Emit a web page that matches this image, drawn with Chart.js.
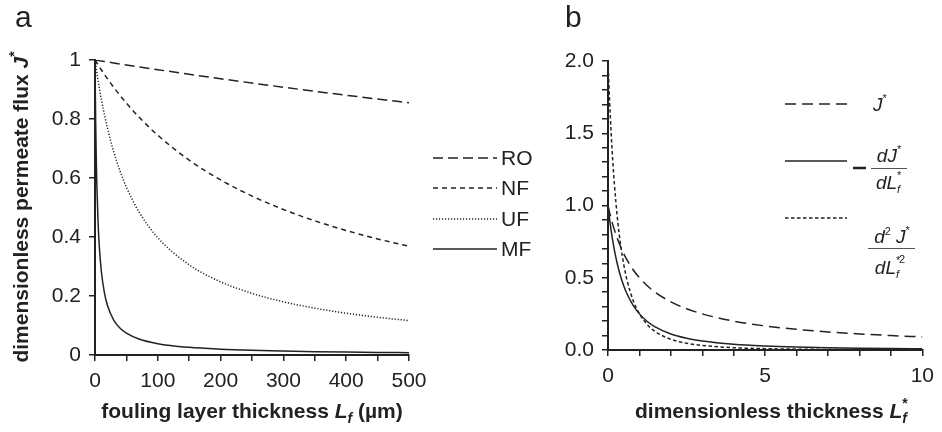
<!DOCTYPE html>
<html lang="en">
<head>
<meta charset="UTF-8">
<title>Permeate flux vs fouling layer thickness</title>
<script src="https://cdn.jsdelivr.net/npm/chart.js"></script>
<style>
    body { margin: 0; background: #fff; }
    .fig { position: relative; width: 942px; height: 432px; overflow: hidden; }
    .fig canvas { position: absolute; top: 0; }
    #chartA { left: 0; }
    #chartB { left: 480px; z-index: 2; }
</style>
</head>
<body>
<div class="fig">
    <canvas id="chartA" width="560" height="432"></canvas>
    <canvas id="chartB" width="462" height="432"></canvas>
</div>

<script>
// panel a: fouling layer thickness (um) and dimensionless flux per membrane type
const thicknessUm = [0, 0.5, 1, 2, 3, 5, 7, 10, 15, 20, 30, 40, 50, 70, 100, 150, 200, 250, 300, 350, 400, 450, 500];
const fluxRO = [1, 0.9998, 0.9997, 0.9993, 0.999, 0.9983, 0.9976, 0.9966, 0.9949, 0.9933, 0.9899, 0.9866, 0.9833, 0.9768, 0.9672, 0.9516, 0.9365, 0.9219, 0.9077, 0.8939, 0.8806, 0.8676, 0.8551];
const fluxNF = [1, 0.9983, 0.9966, 0.9932, 0.9898, 0.9832, 0.9766, 0.9669, 0.9511, 0.9359, 0.9068, 0.8795, 0.8538, 0.8066, 0.7449, 0.6606, 0.5935, 0.5388, 0.4932, 0.4548, 0.4220, 0.3935, 0.3687];
const fluxUF = [1, 0.9925, 0.9851, 0.9706, 0.9565, 0.9296, 0.9041, 0.8684, 0.8148, 0.7674, 0.6875, 0.6226, 0.5690, 0.4853, 0.3976, 0.3056, 0.2481, 0.2089, 0.1803, 0.1587, 0.1416, 0.1279, 0.1166];
const fluxMF = [1, 0.8889, 0.8, 0.6667, 0.5714, 0.4444, 0.3636, 0.2857, 0.2105, 0.1667, 0.1176, 0.0909, 0.0741, 0.0541, 0.0385, 0.026, 0.0196, 0.0157, 0.0132, 0.0113, 0.0099, 0.0088, 0.0079];
const membranes = ['RO', 'NF', 'UF', 'MF'];

// panel b: dimensionless thickness, J*, -dJ*/dL*, d2J*/dL*2
const thicknessDimless = [0, 0.05, 0.1, 0.15, 0.2, 0.3, 0.4, 0.5, 0.6, 0.8, 1, 1.25, 1.5, 2, 2.5, 3, 4, 5, 6, 7, 8, 9, 10];
const fluxJ = [1, 0.9524, 0.9091, 0.8696, 0.8333, 0.7692, 0.7143, 0.6667, 0.625, 0.5556, 0.5, 0.4444, 0.4, 0.3333, 0.2857, 0.25, 0.2, 0.1667, 0.1429, 0.125, 0.1111, 0.1, 0.0909];
const firstDeriv = [1, 0.907, 0.8264, 0.7561, 0.6944, 0.5917, 0.5102, 0.4444, 0.3906, 0.3086, 0.25, 0.1975, 0.16, 0.1111, 0.0816, 0.0625, 0.04, 0.0278, 0.0204, 0.0156, 0.0123, 0.01, 0.0083];
const secondDeriv = [2, 1.7277, 1.5026, 1.315, 1.1574, 0.9103, 0.7289, 0.5926, 0.4883, 0.3429, 0.25, 0.1756, 0.128, 0.0741, 0.0466, 0.0313, 0.016, 0.0093, 0.0058, 0.0039, 0.0027, 0.002, 0.0015];

// tick labels
const xLabelsA = [0, 100, 200, 300, 400, 500];
const yLabelsA = ['0', '0.2', '0.4', '0.6', '0.8', '1'];
const xLabelsB = [0, 5, 10];
const yLabelsB = ['0.0', '0.5', '1.0', '1.5', '2.0'];

const FF = "'Liberation Sans', Arial, sans-serif";
const INK = '#222';
const dashRO = [10, 5], dashNF = [5, 4], dashUF = [1.2, 1.8], dashJ = [11, 6], dashD2 = [3.5, 2.5];

function pts(xs, ys) { return xs.map((x, i) => ({ x: x, y: ys[i] })); }

function line(data, dash) {
    return {
        data: data, borderColor: INK, borderWidth: 1.5, borderDash: dash || [],
        pointRadius: 0, fill: false, cubicInterpolationMode: 'monotone'
    };
}

// draw a row of text pieces with their own fonts / offsets
function drawRuns(ctx, runs, x, y, align) {
    let w = 0;
    for (const r of runs) {
        ctx.font = r.f;
        if (!r.stay) w += ctx.measureText(r.t).width + (r.dx || 0);
    }
    let cx = align === 'center' ? x - w / 2 : x;
    ctx.textAlign = 'left';
    ctx.textBaseline = 'alphabetic';
    ctx.fillStyle = INK;
    for (const r of runs) {
        ctx.font = r.f;
        ctx.fillText(r.t, cx + (r.dx || 0), y + (r.dy || 0));
        if (!r.stay) cx += ctx.measureText(r.t).width + (r.dx || 0);
    }
}

function legendLine(ctx, x1, x2, y, dash) {
    ctx.save();
    ctx.strokeStyle = INK;
    ctx.lineWidth = 1.5;
    ctx.setLineDash(dash);
    ctx.beginPath();
    ctx.moveTo(x1, y);
    ctx.lineTo(x2, y);
    ctx.stroke();
    ctx.restore();
}

function axisStyle(fontSize) {
    return {
        grid: { display: true, drawOnChartArea: false, drawTicks: true, tickLength: 6, color: INK, lineWidth: 1.5 },
        border: { display: true, color: INK, width: 2 },
    };
}

const B21 = 'bold 21px ' + FF, BI21 = 'italic bold 21px ' + FF, B14 = 'bold 14px ' + FF, BI14 = 'italic bold 14px ' + FF;

const decorA = {
    id: 'decorA',
    afterDraw(chart) {
        const ctx = chart.ctx;
        ctx.save();
        ctx.fillStyle = INK;
        ctx.font = '30px ' + FF;
        ctx.fillText('a', 15, 27);
        // x title
        drawRuns(ctx, [
            { t: 'fouling layer thickness ', f: B21 },
            { t: 'L', f: BI21 },
            { t: 'f', f: BI14, dy: 5 },
            { t: ' (\u00b5m)', f: B21 }
        ], 252, 418, 'center');
        // y title
        ctx.save();
        ctx.translate(28, 207);
        ctx.rotate(-Math.PI / 2);
        drawRuns(ctx, [
            { t: 'dimensionless permeate flux ', f: B21 },
            { t: 'J', f: BI21 },
            { t: '*', f: B14, dy: -9 }
        ], 0, 0, 'center');
        ctx.restore();
        // legend
        const ys = [158, 188, 219, 249];
        const dashes = [dashRO, dashNF, dashUF, []];
        membranes.forEach((m, i) => {
            legendLine(ctx, 433, 497, ys[i], dashes[i]);
            ctx.font = '21px ' + FF;
            ctx.fillStyle = INK;
            ctx.textBaseline = 'middle';
            ctx.fillText(m, 501, ys[i] + 1);
        });
        ctx.restore();
    }
};

const I19 = 'italic 19px ' + FF, I11 = 'italic 11px ' + FF, R11 = '11px ' + FF;

function fracBar(ctx, x1, x2, y) {
    ctx.save();
    ctx.strokeStyle = '#555';
    ctx.lineWidth = 1;
    ctx.beginPath();
    ctx.moveTo(x1, y);
    ctx.lineTo(x2, y);
    ctx.stroke();
    ctx.restore();
}

const decorB = {
    id: 'decorB',
    afterDraw(chart) {
        const ctx = chart.ctx;
        const ox = -480; // canvas B sits at page x = 480
        ctx.save();
        ctx.fillStyle = INK;
        ctx.font = '30px ' + FF;
        ctx.fillText('b', 565 + ox, 27);
        drawRuns(ctx, [
            { t: 'dimensionless thickness ', f: B21 },
            { t: 'L', f: BI21 },
            { t: '*', f: B14, dy: -10, stay: true },
            { t: 'f', f: BI14, dy: 5 }
        ], 771 + ox, 418, 'center');

        // legend
        legendLine(ctx, 785 + ox, 847 + ox, 104, dashJ);
        drawRuns(ctx, [{ t: 'J', f: I19 }, { t: '*', f: R11, dy: -9 }], 873 + ox, 111, 'left');

        legendLine(ctx, 785 + ox, 847 + ox, 161, []);
        ctx.save();
        ctx.strokeStyle = INK; ctx.lineWidth = 2.5;
        ctx.beginPath(); ctx.moveTo(853 + ox, 168); ctx.lineTo(866 + ox, 168); ctx.stroke();
        ctx.restore();
        drawRuns(ctx, [{ t: 'dJ', f: I19 }, { t: '*', f: R11, dy: -9 }], 889 + ox, 162, 'center');
        fracBar(ctx, 871 + ox, 907 + ox, 168.5);
        drawRuns(ctx, [{ t: 'dL', f: I19 }, { t: '*', f: R11, dy: -10, stay: true }, { t: 'f', f: I11, dy: 4 }], 888 + ox, 189, 'center');

        legendLine(ctx, 785 + ox, 847 + ox, 218, dashD2);
        drawRuns(ctx, [{ t: 'd', f: I19 }, { t: '2', f: R11, dy: -8 }, { t: ' J', f: I19 }, { t: '*', f: R11, dy: -9 }], 892 + ox, 243, 'center');
        fracBar(ctx, 868 + ox, 915 + ox, 248.5);
        drawRuns(ctx, [{ t: 'dL', f: I19 }, { t: '*', f: R11, dy: -10, stay: true }, { t: 'f', f: I11, dy: 4, stay: true }, { t: ' 2', f: R11, dy: -11 }], 890 + ox, 274, 'center');
        ctx.restore();
    }
};

const tickFont = { family: FF, size: 21 };

new Chart(document.getElementById('chartA'), {
    type: 'line',
    data: {
        datasets: [
            line(pts(thicknessUm, fluxRO), dashRO),
            line(pts(thicknessUm, fluxNF), dashNF),
            line(pts(thicknessUm, fluxUF), dashUF),
            line(pts(thicknessUm, fluxMF), [])
        ]
    },
    options: {
        responsive: false, animation: false, devicePixelRatio: 1,
        layout: { padding: { left: 0, top: 60, right: 151, bottom: 0 } },
        plugins: { legend: { display: false }, tooltip: { enabled: false } },
        scales: {
            x: Object.assign(axisStyle(), {
                type: 'linear', min: 0, max: 500,
                afterFit: s => { s.height = 77; },
                ticks: {
                    stepSize: 50, autoSkip: false, maxRotation: 0, color: INK, font: tickFont, padding: 8,
                    callback: v => xLabelsA.includes(v) ? String(v) : ''
                }
            }),
            y: Object.assign(axisStyle(), {
                type: 'linear', min: 0, max: 1,
                afterFit: s => { s.width = 95; },
                ticks: {
                    stepSize: 0.2, autoSkip: false, color: INK, font: tickFont, padding: 8,
                    callback: v => yLabelsA[Math.round(v * 5)]
                }
            })
        }
    },
    plugins: [decorA]
});

new Chart(document.getElementById('chartB'), {
    type: 'line',
    data: {
        datasets: [
            line(pts(thicknessDimless, fluxJ), dashJ),
            line(pts(thicknessDimless, firstDeriv), []),
            line(pts(thicknessDimless, secondDeriv), dashD2)
        ]
    },
    options: {
        responsive: false, animation: false, devicePixelRatio: 1,
        layout: { padding: { left: 0, top: 61, right: 17, bottom: 0 } },
        plugins: { legend: { display: false }, tooltip: { enabled: false } },
        scales: {
            x: Object.assign(axisStyle(), {
                type: 'linear', min: 0, max: 10,
                afterFit: s => { s.height = 82; },
                ticks: {
                    stepSize: 1, autoSkip: false, maxRotation: 0, color: INK, font: tickFont, padding: 8,
                    callback: v => xLabelsB.includes(v) ? String(v) : ''
                }
            }),
            y: Object.assign(axisStyle(), {
                type: 'linear', min: 0, max: 2,
                afterFit: s => { s.width = 128; },
                ticks: {
                    stepSize: 0.1, autoSkip: false, color: INK, font: tickFont, padding: 8,
                    callback: v => {
                        const h = v * 2;
                        return Math.abs(h - Math.round(h)) < 1e-6 ? yLabelsB[Math.round(h)] : '';
                    }
                }
            })
        }
    },
    plugins: [decorB]
});
</script>
</body>
</html>
